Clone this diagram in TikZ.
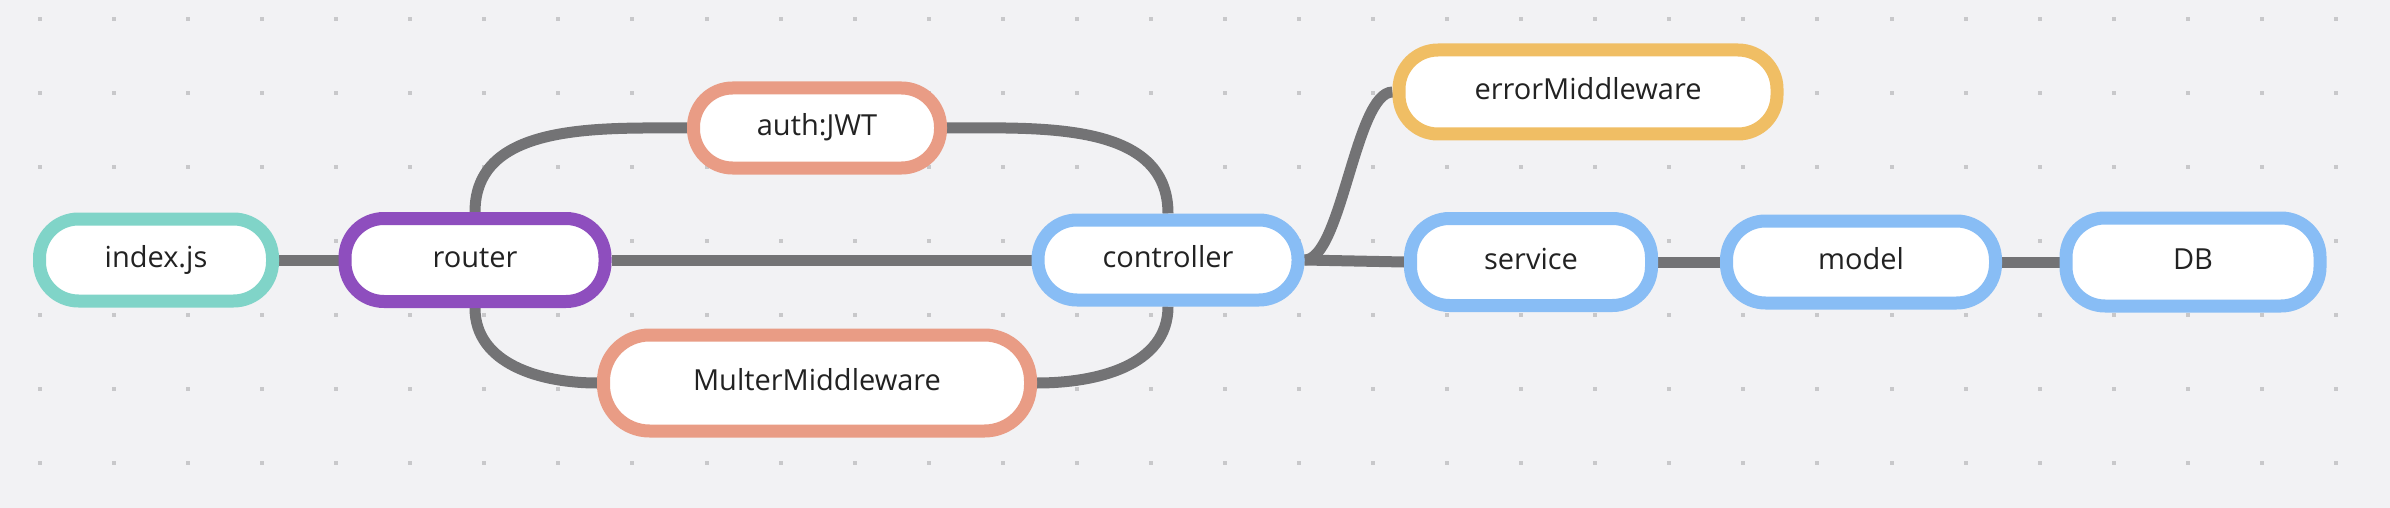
\documentclass[tikz,border=0pt]{standalone}
\usepackage{fontspec}
\setmainfont{Open Sans}
\usepackage{tikz}
\usetikzlibrary{backgrounds}
\usepackage{xcolor}

\definecolor{bgcol}{HTML}{F2F2F4}
\definecolor{dotcol}{HTML}{C8C8CA}
\definecolor{linecol}{HTML}{737375}
\definecolor{txtcol}{HTML}{222222}
\definecolor{tealcol}{HTML}{80D4C8}
\definecolor{purplecol}{HTML}{8E4EBE}
\definecolor{salmoncol}{HTML}{E99C85}
\definecolor{bluecol}{HTML}{88BDF5}
\definecolor{yellowcol}{HTML}{F0BE64}

\begin{document}
\begin{tikzpicture}[x=1pt,y=1pt,
  box/.style={draw, fill=white, line width=13pt, rounded corners=39pt,
    inner sep=0pt, text=txtcol, font=\fontsize{29}{34}\selectfont,
    text height=21pt, text depth=6pt},
  link/.style={draw=linecol, line width=11pt}]
\def\W{2390}
\def\H{508}

% nodes
\node[box, draw=tealcol, minimum width=233pt, minimum height=82pt] (idx) at (156,-260) {index.js};
\node[box, draw=purplecol, minimum width=260pt, minimum height=83pt] (router) at (475,-260) {router};
\node[box, draw=salmoncol, minimum width=247pt, minimum height=80pt] (auth) at (817,-128) {auth:JWT};
\node[box, draw=salmoncol, minimum width=427pt, minimum height=96pt, rounded corners=46pt] (multer) at (817,-383) {MulterMiddleware};
\node[box, draw=bluecol, minimum width=260pt, minimum height=80pt] (ctrl) at (1168,-260) {controller};
\node[box, draw=yellowcol, minimum width=378pt, minimum height=84pt] (err) at (1588,-92) {errorMiddleware};
\node[box, draw=bluecol, minimum width=241pt, minimum height=87pt] (service) at (1531,-262) {service};
\node[box, draw=bluecol, minimum width=269pt, minimum height=82pt] (model) at (1861,-262) {model};
\node[box, draw=bluecol, minimum width=254pt, minimum height=88pt] (db) at (2193,-262) {DB};

\begin{scope}[on background layer]
\fill[bgcol] (0,0) rectangle (\W,-\H);
\foreach \i in {0,...,31} {
  \foreach \j in {0,...,6} {
    \fill[dotcol] ({40+74.06*\i-2}, {-19-74*\j-2}) rectangle +(4,4);
  }
}

% connectors
\draw[link] (idx.east) -- (router.west);
\draw[link] (router.east) -- (ctrl.west);
\draw[link] (router.north) to[out=90, in=180] (auth.west);
\draw[link] (auth.east) to[out=0, in=90] (ctrl.north);
\draw[link] (router.south) to[out=-90, in=180] (multer.west);
\draw[link] (multer.east) to[out=0, in=-90] (ctrl.south);
\draw[link] (ctrl.east) to[out=0, in=180, looseness=0.5] (err.west);
\draw[link] (ctrl.east) -- (service.west);
\draw[link] (service.east) -- (model.west);
\draw[link] (model.east) -- (db.west);
\end{scope}

\useasboundingbox (0,0) rectangle (\W,-\H);
\end{tikzpicture}
\end{document}
